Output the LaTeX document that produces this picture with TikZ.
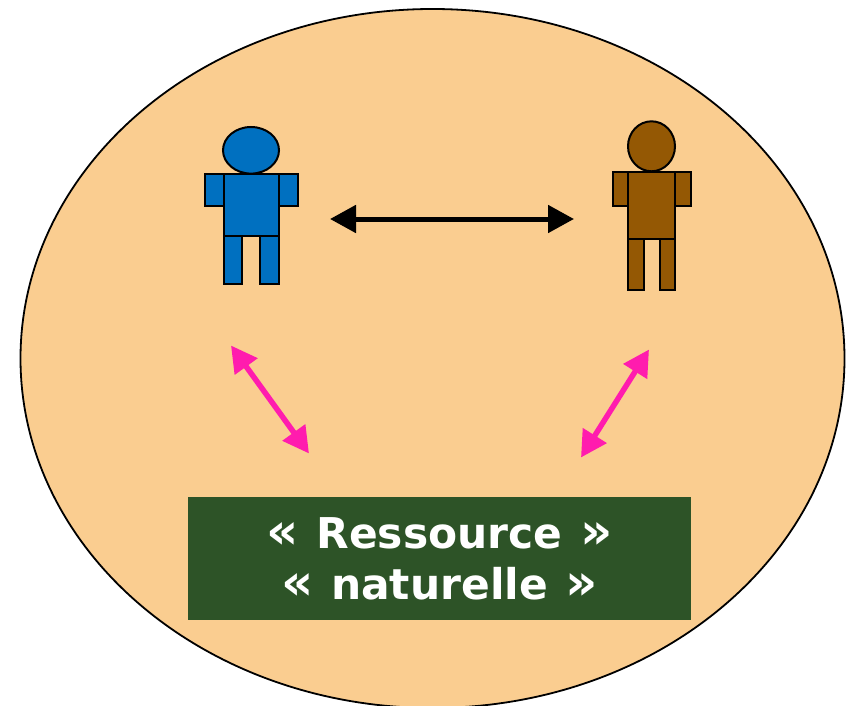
\documentclass[tikz,border=0pt]{standalone}
\usepackage{fontspec}
\setmainfont{DejaVu Sans}
\usetikzlibrary{arrows.meta}
\definecolor{peau}{RGB}{250,205,144}
\definecolor{bleu}{RGB}{0,112,192}
\definecolor{brun}{RGB}{148,88,4}
\definecolor{vert}{RGB}{45,83,39}
\definecolor{rose}{RGB}{255,28,174}
\newcommand{\gql}{{\fontsize{50}{51}\selectfont «}\ \hspace{3pt}}
\newcommand{\gqr}{\hspace{3pt}{\fontsize{50}{51}\selectfont »}}
\tikzset{
  x=1pt,y=-1pt,
  partbox/.style={draw=black,line width=2pt,line join=miter},
  lien/.style={line width=5pt,{Triangle[length=26pt,width=27pt]}-{Triangle[length=26pt,width=27pt]}},
}
\begin{document}
\begin{tikzpicture}
\useasboundingbox (0,0) rectangle (854,706);
\begin{scope}
\clip (0,0) rectangle (854,706);
\draw[fill=peau,draw=black,line width=1.8pt] (432.5,358.5) ellipse [x radius=412,y radius=349.5];
\end{scope}
% person 1
\begin{scope}[partbox/.append style={fill=bleu}]
\draw[partbox] (205,174) rectangle (224,205.5);
\draw[partbox] (279,174) rectangle (297.5,205.5);
\draw[partbox] (223.5,236) rectangle (242,283.5);
\draw[partbox] (260,236) rectangle (279,283.5);
\draw[partbox] (223.5,174) rectangle (279,236);
\draw[partbox] (251,150.3) ellipse [x radius=28,y radius=23.3];
\end{scope}
% person 2
\begin{scope}[partbox/.append style={fill=brun}]
\draw[partbox] (612.5,172) rectangle (628,205.5);
\draw[partbox] (675,172) rectangle (691,205.5);
\draw[partbox] (628,239) rectangle (644,289.5);
\draw[partbox] (659.5,239) rectangle (675,289.5);
\draw[partbox] (628,172) rectangle (675,239);
\draw[partbox] (651.5,146.3) ellipse [x radius=23.5,y radius=25];
\end{scope}
% resource
\node[fill=vert,minimum width=503pt,minimum height=123pt,inner sep=0pt,outer sep=0pt,anchor=north west] (res) at (188,497) {};
\node[text=white,font=\bfseries\fontsize{42.4}{51}\selectfont,align=center,anchor=center] (lab) at (439.5,559) {\gql Ressource\ \gqr\\\gql naturelle\ \gqr};
% connectors
\coordinate (a1) at (330,219);
\coordinate (a2) at (574,219);
\coordinate (b1) at (231,345.5);
\coordinate (b2) at (309,453.5);
\coordinate (c1) at (649,349.5);
\coordinate (c2) at (581,457.5);
\draw[lien,black] (a1) -- (a2);
\draw[lien,rose,line width=5.5pt] (b1) -- (b2);
\draw[lien,rose,line width=5.5pt] (c1) -- (c2);
\end{tikzpicture}
\end{document}
